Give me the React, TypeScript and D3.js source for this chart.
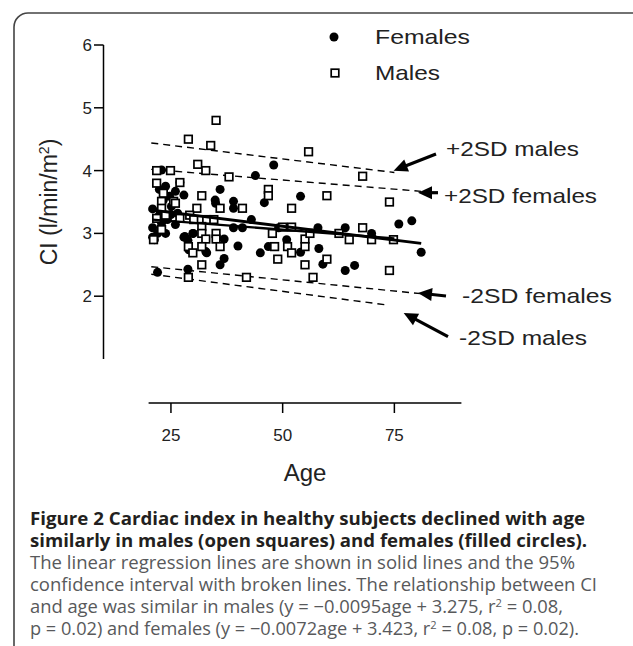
import React from "react";
import * as d3 from "d3";

const femaleAge = [20.9,20.9,20.9,22,22.9,22.4,23.8,23.3,24.7,26,25.1,27.9,26.5,22.4,22.9,22,23.8,26,24.2,27.9,28.8,29.9,29,32.8,36.9,36.9,36,28.8,36,34.9,35,39,39,39,41,40,43,43.9,45,45.9,48,46.8,49.1,50.9,54,54,57.9,58.1,59,64,64,66.1,69.9,76,78.9,81,27,21.3,25,23,28.1,33,30];
const femaleCI = [3.39,3.09,2.94,2.38,4.01,3.70,3.75,3.53,3.59,3.67,3.43,3.61,3.32,3.29,3.16,3.0,3.0,3.14,3.22,2.94,2.89,3.0,2.74,2.71,2.91,2.60,2.50,2.43,3.70,3.53,3.48,3.51,3.40,3.09,3.09,2.80,3.22,3.92,2.69,3.49,4.09,2.79,3.09,2.90,3.59,2.70,3.09,2.76,2.51,3.09,2.41,2.49,3.0,3.15,3.20,2.70,3.81,2.9,3.3,3.35,2.95,2.69,3.0];

const maleAge = [35.1,28.9,33.9,55.8,21.8,24.9,31,32.8,38,67.9,21.8,22.9,25.6,22.9,31.9,46.8,46.8,59.9,73.9,36,41,52,30.8,21.8,23.8,29.2,30.1,33,34.6,21.1,22.9,31.9,31.9,35.1,32.8,35.1,36,31.9,28.9,29.9,31.9,28.9,41.9,48.9,47.7,50,52,48.2,51.1,52,55,55,55,56.1,59.9,56.8,62.6,64.9,67.9,69.9,74.8,73.9,23.3,26,27,27];
const maleCI = [4.80,4.50,4.40,4.30,4.00,4.00,4.10,4.00,3.90,3.91,3.80,3.51,3.51,3.40,3.60,3.70,3.60,3.60,3.50,3.40,3.40,3.40,3.40,3.24,3.29,3.29,3.22,3.22,3.22,2.90,3.06,3.11,3.0,3.0,2.91,2.91,2.79,2.79,2.79,2.69,2.50,2.30,2.30,2.59,3.0,3.10,3.10,2.79,2.79,2.69,2.91,2.79,2.50,3.0,2.59,2.30,3.0,2.90,3.09,2.90,2.90,2.41,3.64,3.48,3.81,3.24];

// fitted and interval lines: [startAge, endAge], [startCI, endCI]
const femaleFitAge = [20.8, 81];
const femaleFitCI = [3.37, 2.84];
const maleFitAge = [20.8, 75];
const maleFitCI = [3.22, 2.92];
const upperMaleAge = [20.6, 75];
const upperMaleCI = [4.44, 3.97];
const upperFemaleAge = [20.6, 81];
const upperFemaleCI = [4.02, 3.67];
const lowerFemaleAge = [20.6, 81];
const lowerFemaleCI = [2.47, 2.04];
const lowerMaleAge = [20.6, 73.4];
const lowerMaleCI = [2.35, 1.86];

const yTicks = [2, 3, 4, 5, 6];
const xTicks = [25, 50, 75];
const legendLabels = ["Females", "Males"];

const captionBold = [
  "Figure 2 Cardiac index in healthy subjects declined with age",
  "similarly in males (open squares) and females (filled circles).",
];
const captionNormal = [
  "The linear regression lines are shown in solid lines and the 95%",
  "confidence interval with broken lines. The relationship between CI",
];

const FONT = "'Liberation Sans', Arial, Helvetica, sans-serif";
const CAP = "'Open Sans', 'Noto Sans', sans-serif";

function Arrow({ x1, y1, x2, y2 }: { x1: number; y1: number; x2: number; y2: number }) {
  const ang = Math.atan2(y2 - y1, x2 - x1);
  const L = 14, W = 6.5;
  const bx = x2 - L * Math.cos(ang), by = y2 - L * Math.sin(ang);
  const px = -Math.sin(ang) * W, py = Math.cos(ang) * W;
  return (
    <g>
      <line x1={x1} y1={y1} x2={bx + 2 * Math.cos(ang)} y2={by + 2 * Math.sin(ang)} stroke="#000" strokeWidth={3.2} />
      <polygon points={`${x2},${y2} ${bx + px},${by + py} ${bx - px},${by - py}`} fill="#000" />
    </g>
  );
}

export default function App() {
  const x = d3.scaleLinear().domain([20, 90]).range([148.6, 461.4]);
  const y = d3.scaleLinear().domain([1, 6]).range([359, 45]);
  const line = d3.line<[number, number]>().x((d) => x(d[0])).y((d) => y(d[1]));
  const seg = (a: number[], c: number[]) => line([[a[0], c[0]], [a[1], c[1]]]) || "";
  const xAxisY = 403;
  const capY = [525, 547, 569, 591, 613, 635];

  return (
    <svg width={633} height={646} style={{ position: "absolute", left: 0, top: 0 }}>
      <rect x={0} y={0} width={633} height={646} fill="#fff" />
      <rect x={14} y={13} width={640} height={700} rx={14} ry={14} fill="none" stroke="#444" strokeWidth={1.6} />

      {/* y axis */}
      <line x1={103.5} x2={103.5} y1={y(1)} y2={y(6)} stroke="#000" strokeWidth={1.5} />
      {yTicks.map((t) => (
        <g key={t}>
          <line x1={94} x2={103.5} y1={y(t)} y2={y(t)} stroke="#000" strokeWidth={1.5} />
          <text x={92} y={y(t) + 6} textAnchor="end" fontFamily={FONT} fontSize={17} fill="#222">{t}</text>
        </g>
      ))}
      <text transform={`translate(57,${(y(1) + y(6)) / 2}) rotate(-90)`} textAnchor="middle" fontFamily={FONT} fontSize={23} fill="#222">
        CI (l/min/m<tspan dy={-8} fontSize={14}>2</tspan><tspan dy={8}>)</tspan>
      </text>

      {/* x axis */}
      <line x1={x(20)} x2={x(90)} y1={xAxisY} y2={xAxisY} stroke="#000" strokeWidth={1.5} />
      {xTicks.map((t) => (
        <g key={t}>
          <line x1={x(t)} x2={x(t)} y1={xAxisY} y2={xAxisY + 10} stroke="#000" strokeWidth={1.5} />
          <text x={x(t)} y={441} textAnchor="middle" fontFamily={FONT} fontSize={17} fill="#222">{t}</text>
        </g>
      ))}
      <text x={(x(20) + x(90)) / 2} y={481} textAnchor="middle" fontFamily={FONT} fontSize={24} fill="#222">Age</text>

      {/* dashed interval lines */}
      {[
        [upperMaleAge, upperMaleCI],
        [upperFemaleAge, upperFemaleCI],
        [lowerFemaleAge, lowerFemaleCI],
        [lowerMaleAge, lowerMaleCI],
      ].map(([a, c], i) => (
        <path key={i} d={seg(a, c)} fill="none" stroke="#000" strokeWidth={1.4} strokeDasharray="7,5" />
      ))}

      {/* points */}
      {femaleAge.map((a, i) => (
        <circle key={"f" + i} cx={x(a)} cy={y(femaleCI[i])} r={4.5} fill="#000" />
      ))}
      {maleAge.map((a, i) => (
        <rect key={"m" + i} x={x(a) - 3.8} y={y(maleCI[i]) - 3.8} width={7.6} height={7.6} fill="#fff" stroke="#000" strokeWidth={1.7} />
      ))}

      {/* regression lines */}
      <path d={seg(femaleFitAge, femaleFitCI)} fill="none" stroke="#000" strokeWidth={2.8} />
      <path d={seg(maleFitAge, maleFitCI)} fill="none" stroke="#000" strokeWidth={2.4} />

      {/* legend */}
      <circle cx={334} cy={37} r={4.5} fill="#000" />
      <rect x={331.2} y={69.2} width={7.6} height={7.6} fill="#fff" stroke="#000" strokeWidth={1.7} />
      <text x={375} y={44} fontFamily={FONT} fontSize={21} textLength={95} lengthAdjust="spacingAndGlyphs" fill="#222">{legendLabels[0]}</text>
      <text x={375} y={80} fontFamily={FONT} fontSize={21} textLength={65} lengthAdjust="spacingAndGlyphs" fill="#222">{legendLabels[1]}</text>

      {/* annotations */}
      <Arrow x1={436} y1={154} x2={393.6} y2={170.7} />
      <Arrow x1={438} y1={192.7} x2={418} y2={192.7} />
      <Arrow x1={446} y1={296} x2={418} y2={293} />
      <Arrow x1={448} y1={336.7} x2={403.7} y2={313} />
      <text x={446} y={156} fontFamily={FONT} fontSize={21} textLength={133} lengthAdjust="spacingAndGlyphs" fill="#222">+2SD males</text>
      <text x={444} y={203} fontFamily={FONT} fontSize={21} textLength={153} lengthAdjust="spacingAndGlyphs" fill="#222">+2SD females</text>
      <text x={462} y={303} fontFamily={FONT} fontSize={21} textLength={150} lengthAdjust="spacingAndGlyphs" fill="#222">-2SD females</text>
      <text x={459} y={345} fontFamily={FONT} fontSize={21} textLength={128} lengthAdjust="spacingAndGlyphs" fill="#222">-2SD males</text>

      {/* caption */}
      <text x={30} y={capY[0]} fontFamily={CAP} fontWeight="bold" fontSize={18} fill="#231f20" textLength={555} lengthAdjust="spacingAndGlyphs">{captionBold[0]}</text>
      <text x={30} y={capY[1]} fontFamily={CAP} fontWeight="bold" fontSize={18} fill="#231f20" textLength={557} lengthAdjust="spacingAndGlyphs">{captionBold[1]}</text>
      <text x={30} y={capY[2]} fontFamily={CAP} fontSize={18} fill="#58595b" textLength={545} lengthAdjust="spacingAndGlyphs">{captionNormal[0]}</text>
      <text x={30} y={capY[3]} fontFamily={CAP} fontSize={18} fill="#58595b" textLength={567} lengthAdjust="spacingAndGlyphs">{captionNormal[1]}</text>
      <text x={30} y={capY[4]} fontFamily={CAP} fontSize={18} fill="#58595b" textLength={533} lengthAdjust="spacingAndGlyphs">
        and age was similar in males (y = −0.0095age + 3.275, r<tspan dy={-6} fontSize={11}>2</tspan><tspan dy={6}> = 0.08,</tspan>
      </text>
      <text x={30} y={capY[5]} fontFamily={CAP} fontSize={18} fill="#58595b" textLength={549} lengthAdjust="spacingAndGlyphs">
        p = 0.02) and females (y = −0.0072age + 3.423, r<tspan dy={-6} fontSize={11}>2</tspan><tspan dy={6}> = 0.08, p = 0.02).</tspan>
      </text>
    </svg>
  );
}
